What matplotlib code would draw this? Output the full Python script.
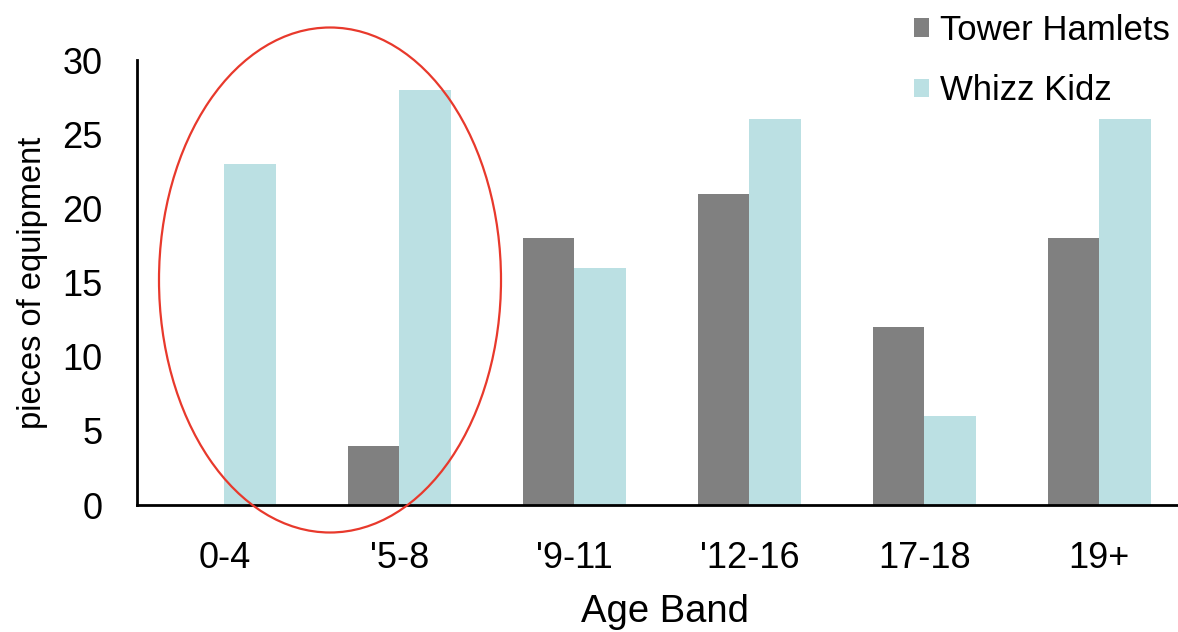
import matplotlib
matplotlib.use('Agg')
import matplotlib.pyplot as plt
from matplotlib.patches import Ellipse
import numpy as np

# Chart data
age_bands = ['0-4', "'5-8", "'9-11", "'12-16", '17-18', '19+']
tower_hamlets = [0, 4, 18, 21, 12, 18]
whizz_kidz = [23, 28, 16, 26, 6, 26]
y_ticks = [0, 5, 10, 15, 20, 25, 30]

plt.rcParams['font.family'] = ['Liberation Sans', 'DejaVu Sans']

fig = plt.figure(figsize=(11.78, 6.32), dpi=100)
ax = fig.add_axes([0.1163, 0.2009, 0.8837, 0.704])

x = np.arange(len(age_bands))
width = 0.295
ax.bar(x - width / 2, tower_hamlets, width, color='#808080', label='Tower Hamlets')
ax.bar(x + width / 2, whizz_kidz, width, color='#bbe0e3', label='Whizz Kidz')

# Axis formatting
ax.set_xlim(-0.5, 5.45)
ax.set_ylim(0, 30)
ax.set_xticks(x)
ax.set_xticklabels(age_bands)
ax.set_yticks(y_ticks)
ax.tick_params(axis='both', length=0, labelsize=26)
ax.tick_params(axis='x', pad=26)
ax.tick_params(axis='y', pad=25)
ax.set_xlabel('Age Band', fontsize=27.5)
ax.xaxis.set_label_coords(0.507, -0.2)
ax.set_ylabel('pieces of equipment', fontsize=23.5, labelpad=10)

for side in ['top', 'right']:
    ax.spines[side].set_visible(False)
for side in ['left', 'bottom']:
    ax.spines[side].set_linewidth(2)
    ax.spines[side].set_color('black')

# Legend above the plot area
ax.legend(loc='upper left', bbox_to_anchor=(0.749, 1.028), bbox_transform=fig.transFigure,
          frameon=False, fontsize=25, handlelength=0.45, handleheight=0.45,
          handletextpad=0.3, labelspacing=0.8)

# Red ellipse highlighting the first two bands
circle = Ellipse((330 / 1178, 1 - 280 / 632), 342 / 1178, 505 / 632,
                 transform=fig.transFigure, fill=False, edgecolor='#e8392c',
                 linewidth=1.6, clip_on=False)
fig.patches.append(circle)

fig.savefig('out.png', dpi=100)
